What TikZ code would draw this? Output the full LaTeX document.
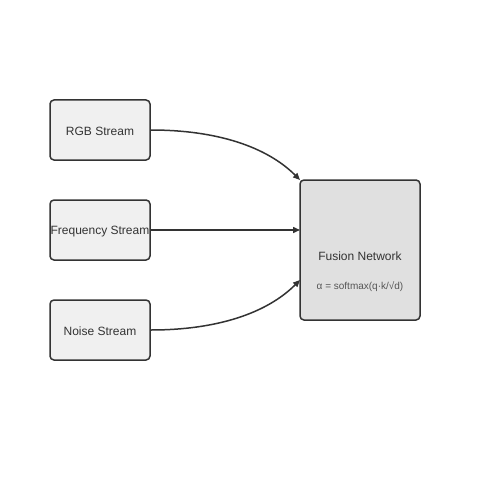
\documentclass[tikz,border=0pt]{standalone}
\usepackage{fontspec}
\setmainfont{Liberation Sans}
\usetikzlibrary{arrows.meta}
\definecolor{edge}{HTML}{333333}
\definecolor{streamfill}{HTML}{F0F0F0}
\definecolor{fusionfill}{HTML}{E0E0E0}
\definecolor{formula}{HTML}{555555}
\begin{document}
\begin{tikzpicture}[x=1pt,y=-1pt,
  streambox/.style={draw=edge,fill=streamfill,line width=1.5pt,rounded corners=4pt,minimum width=100pt,minimum height=60pt,inner sep=0pt},
  streamlabel/.style={font=\fontsize{12}{14}\selectfont,text=edge,inner sep=0pt},
  fusionbox/.style={draw=edge,fill=fusionfill,line width=1.5pt,rounded corners=4pt,minimum width=120pt,minimum height=140pt,inner sep=0pt},
  conn/.style={draw=edge,line width=1.5pt,-{Triangle[length=7pt,width=6pt]}}]
\useasboundingbox (0,0) rectangle (500,500);
\node[streambox] (rgb) at (100,130) {};
\node[streambox] (freq) at (100,230) {};
\node[streambox] (noise) at (100,330) {};
\node[streamlabel] (rgbl) at (100,131.5) {RGB Stream};
\node[streamlabel] (freql) at (100,231.5) {Frequency Stream};
\node[streamlabel] (noisel) at (100,331.5) {Noise Stream};
\node[fusionbox] (fusion) at (360,250) {};
\node[streamlabel] (ftitle) at (360,256.5) {Fusion Network};
\node[font=\fontsize{10}{12}\selectfont,text=formula,inner sep=0pt] (fform) at (360,286.5) {α = softmax(q·k/√d)};
\coordinate (t1) at (300,180);
\coordinate (t2) at (300,230);
\coordinate (t3) at (300,280);
\draw[conn] (rgb.east) .. controls (216.7,130) and (266.7,146.7) .. (t1);
\draw[conn] (freq.east) -- (t2);
\draw[conn] (noise.east) .. controls (216.7,330) and (266.7,313.3) .. (t3);
\end{tikzpicture}
\end{document}
